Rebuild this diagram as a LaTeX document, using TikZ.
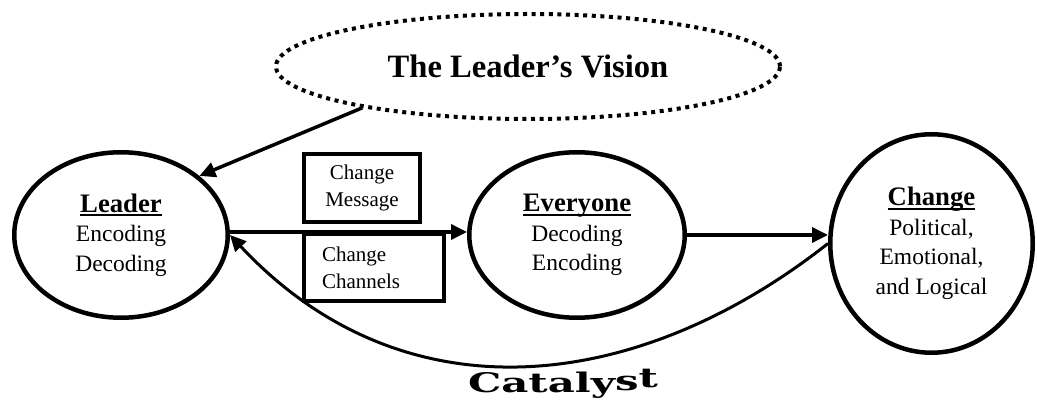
\documentclass[tikz,border=0pt]{standalone}
\usepackage{fontspec}
\usepackage{graphicx}
\setmainfont{Liberation Serif}
\newfontfamily\catfont{DejaVu Serif}
\usetikzlibrary{shapes.geometric,arrows.meta}

% bold heading with a word-processor style underline at a fixed depth
\newcommand\headul[1]{\setbox0\hbox{\fontsize{26.7}{29.5}\selectfont\bfseries #1}%
  \rlap{\rule[-4pt]{\wd0}{2.2pt}}\box0}

\tikzset{
  bubble/.style={ellipse, draw, line width=4.5pt, inner sep=0pt, align=center,
    font=\fontsize{23.5}{29.5}\selectfont},
  tag/.style={rectangle, draw, line width=4pt, inner sep=0pt,
    font=\fontsize{21}{27}\selectfont},
  flow/.style={line width=3.5pt, -{Triangle[length=16pt,width=15pt]}},
  loopback/.style={line width=3pt, -{Triangle[length=16pt,width=15pt]}},
}

\begin{document}
\begin{tikzpicture}[x=1pt, y=-1pt]
\useasboundingbox (0,0) rectangle (1037,403);

% vision bubble
\node[ellipse, draw, line width=4pt, dash pattern=on 4pt off 4.6pt, inner sep=0pt,
      minimum width=504pt, minimum height=105pt,
      font=\fontsize{32.6}{36}\selectfont\bfseries] (vision) at (528,66.5)
      {The Leader’s Vision};

% the three stages
\node[bubble, minimum width=213.5pt, minimum height=165.5pt] (leader) at (121,235)
  {\headul{Leader}\\Encoding\\Decoding};
\node[bubble, minimum width=215.5pt, minimum height=165.5pt] (everyone) at (577,235)
  {\headul{Everyone}\\Decoding\\Encoding};
\node[bubble, minimum width=202.5pt, minimum height=218.5pt] (change) at (931.5,243.5)
  {\headul{Change}\\Political,\\Emotional,\\and Logical};

% message and channel boxes
\node[tag, minimum width=116pt, minimum height=68pt, align=center] (message) at (362,188)
  {Change\\Message};
\node[tag, minimum width=140pt, minimum height=67pt, text width=104pt, align=left]
  (channels) at (374,267.5) {Change\\Channels};

% connectors
\draw[flow] (vision.194) -- (leader.37);
\draw[flow] ([yshift=3pt]leader.east) -- ([yshift=3pt]leader.east -| everyone.west);
\draw[flow] (everyone.east) -- (everyone.east -| change.west);
\draw[loopback] (change.west) .. controls (637,394) and (404,421) .. (leader.east);

% label under the feedback loop
\node[font=\catfont\bfseries\fontsize{27}{30}\selectfont, anchor=base, inner sep=0pt]
  (catalyst) at (563,393)
  {\scalebox{1.55}[1]{Cataly\raisebox{2pt}{s}\raisebox{5pt}{t}}};
\end{tikzpicture}
\end{document}
